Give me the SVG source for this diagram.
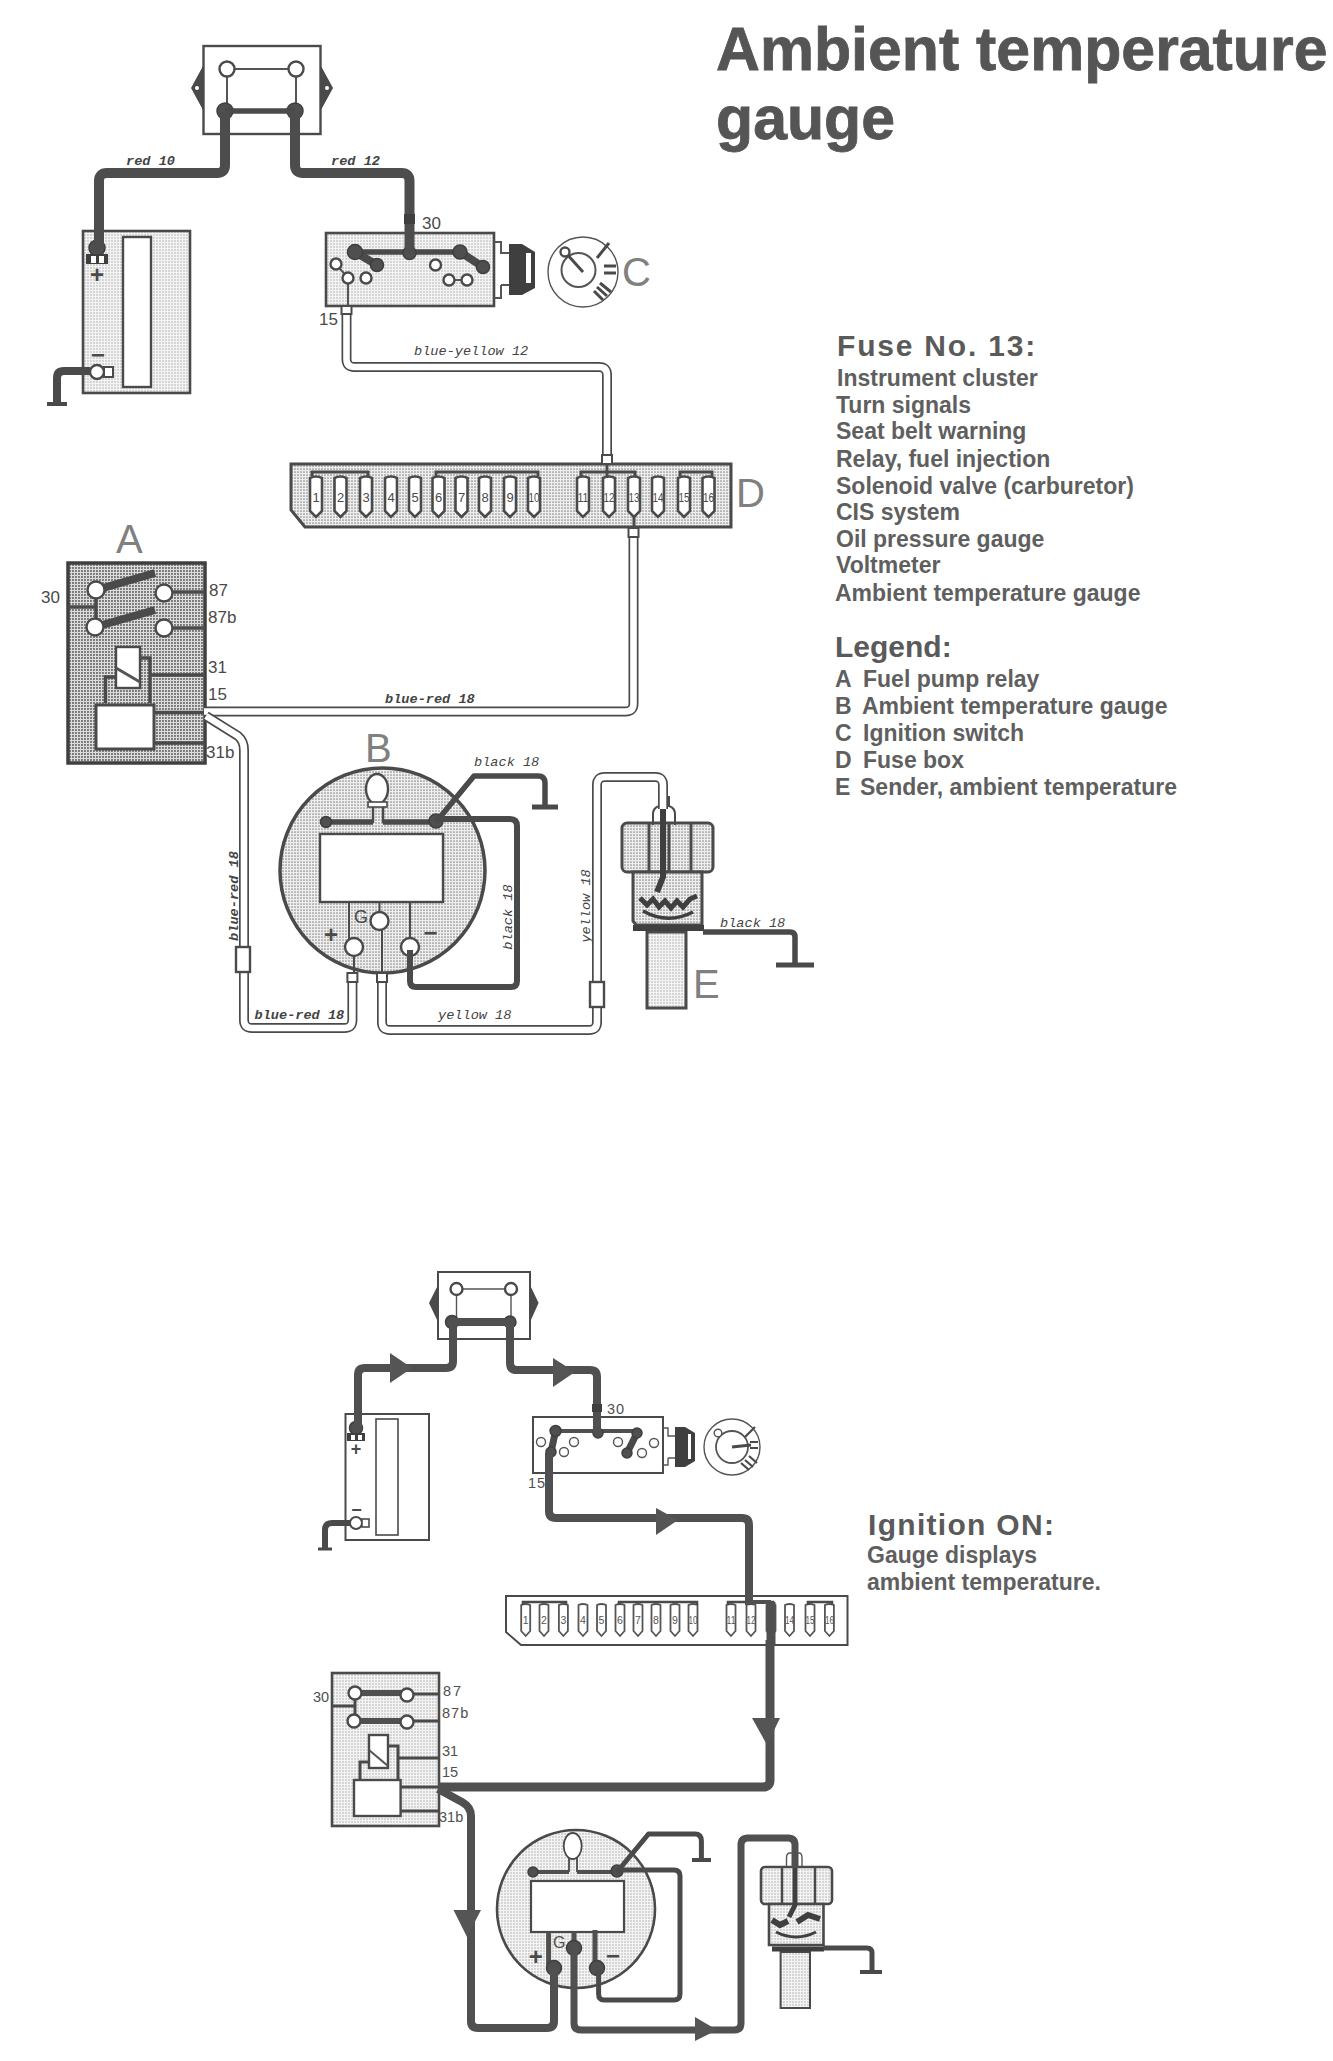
<svg xmlns="http://www.w3.org/2000/svg" xmlns:xlink="http://www.w3.org/1999/xlink" width="1333" height="2061" viewBox="0 0 1333 2061">
<style>
.bg{fill:#fff}
.ln{fill:none;stroke:#4a4a4a;stroke-width:2.4}
.th{fill:none;stroke:#555;stroke-width:1.4}
.light{fill:url(#dotL);stroke:#4a4a4a;stroke-width:2.6}
.mid{fill:url(#dotM);stroke:#4a4a4a;stroke-width:3}
.dark{fill:url(#dotD);stroke:#3f3f3f;stroke-width:3.5}
.wh{fill:#fff;stroke:#4a4a4a;stroke-width:2.4}
.term{fill:#4f4f4f;stroke:#3f3f3f;stroke-width:1.5}
.wire{fill:none;stroke:#4d4d4d;stroke-width:10;stroke-linejoin:round}
.wire2{fill:none;stroke:#505050;stroke-width:8;stroke-linejoin:round}
.w5{fill:none;stroke:#4a4a4a;stroke-width:5.5;stroke-linejoin:round}
.w4{fill:none;stroke:#505050;stroke-width:4;stroke-linejoin:round}
.dO{fill:none;stroke:#4a4a4a;stroke-width:10}
.dI{fill:none;stroke:#fff;stroke-width:6.6}
.arrow{fill:#555}
.lab{font-family:"Liberation Mono",monospace;font-style:italic;font-size:13.6px;fill:#444}
.labb{font-family:"Liberation Mono",monospace;font-style:italic;font-weight:bold;font-size:13.6px;fill:#444}
.pin{font-family:"Liberation Sans",Arial,sans-serif;font-size:17px;fill:#4a4a4a}
.pin2{font-family:"Liberation Sans",Arial,sans-serif;font-size:14.5px;fill:#4f4f4f}
.big{font-family:"Liberation Sans",Arial,sans-serif;font-size:40px;fill:#808080}
.sign{font-family:"Liberation Sans",Arial,sans-serif;font-weight:bold;font-size:24px;fill:#4a4a4a;text-anchor:middle}
.h0{font-family:"Liberation Sans",Arial,sans-serif;font-weight:bold;font-size:60.8px;fill:#555;stroke:#555;stroke-width:0.8}
.h1{font-family:"Liberation Sans",Arial,sans-serif;font-weight:bold;font-size:30px;fill:#5a5a5a}
.t{font-family:"Liberation Sans",Arial,sans-serif;font-weight:bold;font-size:23px;fill:#5f5f5f}
.fn{font-family:"Liberation Sans",Arial,sans-serif;font-size:13px;fill:#4a4a4a;text-anchor:middle}
.fn2{font-family:"Liberation Sans",Arial,sans-serif;font-size:10.5px;fill:#555;text-anchor:middle}
</style>
<defs>
<pattern id="dotL" width="3" height="3" patternUnits="userSpaceOnUse"><rect width="3" height="3" fill="#f4f4f4"/><circle cx="1" cy="1" r="0.7" fill="#a0a0a0"/></pattern>
<pattern id="dotM" width="3" height="3" patternUnits="userSpaceOnUse"><rect width="3" height="3" fill="#eeeeee"/><circle cx="1" cy="1" r="0.85" fill="#8a8a8a"/></pattern>
<pattern id="dotD" width="3" height="3" patternUnits="userSpaceOnUse"><rect width="3" height="3" fill="#dcdcdc"/><circle cx="1" cy="1" r="1.05" fill="#707070"/></pattern>
<path id="fuse" d="M-6,-19 Q0,-22 6,-19 V14 L0,20 L-6,14 Z"/>
<path id="fuse2" d="M-4.5,-15 Q0,-17 4.5,-15 V11 L0,16 L-4.5,11 Z"/>
<path id="wBY" d="M346.5,306 V359 Q346.5,367 354.5,367 H599 Q607,367 607,375 V457"/>
<path id="wBR1" d="M633.5,530 V703.5 Q633.5,711.5 625.5,711.5 H204"/>
<path id="wBR2" d="M206,716 L238,736 Q244,741 244,750 V1020 Q244,1028 252,1028 H344.4 Q352.4,1028 352.4,1020 V975"/>
<path id="wY" d="M382,975 V1022 Q382,1030 390,1030 H589 Q597,1030 597,1022 V785 Q597,777 605,777 H655 Q663,777 663,785 V809"/>
</defs>

<rect class="bg" width="1333" height="2061"/>

<g id="title">
<text class="h0" x="716" y="70">Ambient temperature</text>
<text class="h0" x="716" y="139">gauge</text>
</g>

<g id="fuse-list">
<text class="h1" x="837" y="356" letter-spacing="1.8">Fuse No. 13:</text>
<text class="t" x="837" y="386">Instrument cluster</text>
<text class="t" x="836" y="413">Turn signals</text>
<text class="t" x="836" y="439">Seat belt warning</text>
<text class="t" x="836" y="467">Relay, fuel injection</text>
<text class="t" x="836" y="494">Solenoid valve (carburetor)</text>
<text class="t" x="836" y="520">CIS system</text>
<text class="t" x="836" y="547">Oil pressure gauge</text>
<text class="t" x="836" y="573">Voltmeter</text>
<text class="t" x="835" y="601">Ambient temperature gauge</text>
</g>

<g id="legend">
<text class="h1" x="835" y="657">Legend:</text>
<text class="t" x="835" y="687">A</text><text class="t" x="863" y="687">Fuel pump relay</text>
<text class="t" x="835" y="714">B</text><text class="t" x="862" y="714">Ambient temperature gauge</text>
<text class="t" x="835" y="741">C</text><text class="t" x="863" y="741">Ignition switch</text>
<text class="t" x="835" y="768">D</text><text class="t" x="863" y="768">Fuse box</text>
<text class="t" x="835" y="795">E</text><text class="t" x="860" y="795">Sender, ambient temperature</text>
</g>

<g id="ignition-note">
<text class="h1" x="868" y="1535" letter-spacing="1.3">Ignition ON:</text>
<text class="t" x="867" y="1563">Gauge displays</text>
<text class="t" x="867" y="1590">ambient temperature.</text>
</g>

<!-- upper diagram -->
<g id="connector-block-1">
<path d="M203,66 L191,88 L203,110 Z M321,66 L333,88 L321,110 Z" fill="#4a4a4a"/>
<circle cx="197" cy="88" r="2" fill="#fff"/><circle cx="327" cy="88" r="2" fill="#fff"/>
<rect class="wh" x="203.5" y="46" width="117" height="88"/>
<path class="th" d="M227,69 V111 M296,69 V111 M227,69 H296" style="stroke-width:2"/>
<circle class="wh" cx="227" cy="69" r="7.5"/><circle class="wh" cx="296" cy="69" r="7.5"/>
<circle class="term" cx="225" cy="111" r="8"/><circle class="term" cx="295" cy="111" r="8"/>
<path class="w5" d="M225,111 H295"/>
</g>

<g id="battery-1">
<rect class="light" x="83" y="231" width="107" height="162"/>
<rect class="wh" x="123" y="237" width="28" height="150"/>
<circle class="term" cx="97" cy="248" r="8"/>
<rect x="86" y="254" width="22" height="10" fill="#3f3f3f"/>
<rect x="91" y="256" width="5" height="7" fill="#fff"/><rect x="99" y="256" width="5" height="7" fill="#fff"/>
<text class="sign" x="97" y="283">+</text>
<text class="sign" x="98" y="363">−</text>
<circle cx="97" cy="372" r="7" fill="#fff" stroke="#4a4a4a" stroke-width="2.4"/>
<rect x="104" y="367" width="9" height="10" fill="#fff" stroke="#4a4a4a" stroke-width="2"/>
<path d="M47,404 H67" fill="none" stroke="#4a4a4a" stroke-width="4"/>
<path d="M57,404 V378 Q57,371 64,371 H90" fill="none" stroke="#4a4a4a" stroke-width="8"/>
</g>

<g id="switch-C">
<rect class="light" x="326" y="233" width="168" height="73"/>
<path class="w5" d="M355,252 H460"/>
<path d="M355,252 L377,265 M460,252 L483,267" fill="none" stroke="#4a4a4a" stroke-width="8"/>
<circle class="term" cx="355" cy="252" r="7.5"/><circle class="term" cx="409.5" cy="253" r="6.5"/><circle class="term" cx="460" cy="252" r="7"/><circle class="term" cx="377" cy="265" r="6.5"/><circle class="term" cx="483" cy="267" r="6.5"/>
<path class="th" d="M336,264 L348,278 V306 M449,280 H467" style="stroke-width:2"/>
<circle class="wh" cx="336" cy="264" r="5.5"/><circle class="wh" cx="348" cy="278" r="5.5"/><circle class="wh" cx="366" cy="278" r="5.5"/><circle class="wh" cx="435.5" cy="265" r="5.5"/><circle class="wh" cx="449" cy="280" r="5.5"/><circle class="wh" cx="467" cy="280" r="5.5"/>
<path class="th" d="M494,242 H501 V253 H509 M501,285 V298 H494 M501,285 H509" style="stroke-width:2"/>
<path d="M509,244 H522 L535,252 V288 L522,295 H509 Z" fill="#3f3f3f"/>
<rect x="526" y="253" width="5" height="30" fill="#fff"/>
<circle class="th" cx="583" cy="272" r="35"/>
<circle class="th" cx="578.5" cy="270" r="17" style="stroke-width:2"/>
<path d="M565,252 L583,272" stroke="#4a4a4a" stroke-width="3" fill="none"/>
<circle class="wh" cx="565" cy="252" r="4.5"/>
<path d="M597,258 L609,243 M604,266 H616 M604,273 H616 M597,287 L607,296 M600,283 L611,292 M594,291 L603,300" stroke="#4a4a4a" stroke-width="3" fill="none"/>
<text class="big" x="622" y="286">C</text>
<text class="pin" x="422" y="229">30</text>
<text class="pin" x="319" y="325">15</text>
</g>

<g id="fusebox-D">
<path class="mid" d="M291,464 H731 V527 H305 L291,510 Z"/>
<g fill="#fff" stroke="#4a4a4a" stroke-width="2.6">
<use xlink:href="#fuse" x="316" y="497"/><use xlink:href="#fuse" x="340.5" y="497"/><use xlink:href="#fuse" x="366" y="497"/><use xlink:href="#fuse" x="391" y="497"/><use xlink:href="#fuse" x="415" y="497"/><use xlink:href="#fuse" x="438.5" y="497"/><use xlink:href="#fuse" x="461.5" y="497"/><use xlink:href="#fuse" x="485" y="497"/><use xlink:href="#fuse" x="510" y="497"/><use xlink:href="#fuse" x="534" y="497"/><use xlink:href="#fuse" x="583" y="497"/><use xlink:href="#fuse" x="609" y="497"/><use xlink:href="#fuse" x="634" y="497"/><use xlink:href="#fuse" x="658" y="497"/><use xlink:href="#fuse" x="684" y="497"/><use xlink:href="#fuse" x="708.5" y="497"/>
</g>
<path class="ln" d="M312,476 V472 H368 V476 M436,476 V472 H538 V476 M581,476 V472 H635 V476 M680,476 V472 H712 V476" style="stroke-width:3"/>
<text class="fn" x="316" y="502">1</text><text class="fn" x="340.5" y="502">2</text><text class="fn" x="366" y="502">3</text><text class="fn" x="391" y="502">4</text><text class="fn" x="415" y="502">5</text><text class="fn" x="438.5" y="502">6</text><text class="fn" x="461.5" y="502">7</text><text class="fn" x="485" y="502">8</text><text class="fn" x="510" y="502">9</text><text class="fn" x="534" y="502" textLength="11" lengthAdjust="spacingAndGlyphs">10</text><text class="fn" x="583" y="502" textLength="11" lengthAdjust="spacingAndGlyphs">11</text><text class="fn" x="609" y="502" textLength="11" lengthAdjust="spacingAndGlyphs">12</text><text class="fn" x="634" y="502" textLength="11" lengthAdjust="spacingAndGlyphs">13</text><text class="fn" x="658" y="502" textLength="11" lengthAdjust="spacingAndGlyphs">14</text><text class="fn" x="684" y="502" textLength="11" lengthAdjust="spacingAndGlyphs">15</text><text class="fn" x="708.5" y="502" textLength="11" lengthAdjust="spacingAndGlyphs">16</text>
<text class="big" x="736" y="507">D</text>
</g>

<g id="relay-A">
<rect class="dark" x="68" y="563" width="137" height="200"/>
<path class="w5" d="M96,590 L155,573 M95,627 L155,610" style="stroke-width:8"/>
<path class="ln" d="M68,607 H96 M96,590 V627 M164,592 H205 M164,628 H205" style="stroke-width:3.4"/>
<circle class="wh" cx="96" cy="590" r="8.5"/><circle class="wh" cx="164" cy="593" r="8.5"/><circle class="wh" cx="95" cy="627" r="8.5"/><circle class="wh" cx="164" cy="628" r="8.5"/>
<path class="ln" d="M140,658 H150 V703 M116.5,677 H105.5 V703 M150,675 H205 M154,712.5 H205 M154,743 H205" style="stroke-width:3.4"/>
<rect class="wh" x="116" y="647" width="24" height="41"/>
<path class="th" d="M116,668 L140,682" style="stroke-width:3"/>
<rect class="wh" x="96" y="705" width="58" height="44" style="stroke-width:3"/>
<text class="big" x="116" y="553">A</text>
<text class="pin" x="41" y="603">30</text>
<text class="pin" x="209" y="596">87</text>
<text class="pin" x="208" y="623">87b</text>
<text class="pin" x="208" y="673">31</text>
<text class="pin" x="208" y="700">15</text>
<text class="pin" x="206" y="758">31b</text>
</g>

<g id="gauge-B">
<circle class="mid" cx="382.5" cy="870.5" r="102.5" style="stroke-width:3.5"/>
<path class="ln" d="M373,805 V823 M383,805 V823"/>
<path class="w5" d="M326,822 H373 M383,822 H436"/>
<circle class="term" cx="326" cy="822" r="5.5"/><circle class="term" cx="436" cy="821" r="7"/>
<ellipse class="wh" cx="377" cy="789" rx="11" ry="15"/>
<rect x="368" y="802" width="19" height="5" fill="#fff" stroke="#4a4a4a" stroke-width="1.6"/>
<rect class="wh" x="320" y="834" width="123" height="68"/>
<path class="ln" d="M349,902 V940 M410,902 V940 M379.5,902 V912" style="stroke-width:2"/>
<path class="ln" d="M354,955 V973 M382,930 V973" style="stroke-width:2"/>
<circle class="wh" cx="354" cy="947" r="9"/><circle class="wh" cx="379.5" cy="921" r="9"/><circle class="wh" cx="410" cy="947" r="9"/>
<text class="pin" x="354" y="923" style="font-size:18px">G</text>
<text class="sign" x="331" y="943">+</text>
<text class="sign" x="430.5" y="941">−</text>
<path d="M532,807 H558" stroke="#4a4a4a" stroke-width="5" fill="none"/>
<text class="big" x="365" y="762">B</text>
</g>

<g id="sender-E">
<rect class="light" x="647" y="932" width="39" height="76" style="stroke-width:3"/>
<rect class="mid" x="622" y="823" width="91" height="49" rx="5"/>
<path class="ln" d="M649,823 V872 M669,823 V872 M691,823 V872" style="stroke-width:3"/>
<path class="mid" d="M633,872 H702 V925 H636 L633,921 Z"/>
<path d="M663,808 V877 L657,892" fill="none" stroke="#3f3f3f" stroke-width="6"/>
<path d="M640,898 L647,905 L653,899 L659,907 L665,901 L671,908 L677,901 L683,907 L690,899 L697,896" fill="none" stroke="#3f3f3f" stroke-width="5"/>
<path d="M643,911 Q668,925 693,912" fill="none" stroke="#3f3f3f" stroke-width="3.5"/>
<path d="M633,928 H704" stroke="#3f3f3f" stroke-width="6" fill="none"/>
<path d="M653,825 V814 Q653,808 659,806 V796 M675,825 V814 Q675,808 669,806 V796" fill="none" stroke="#4a4a4a" stroke-width="2"/>
<path d="M776,965 H814" stroke="#4a4a4a" stroke-width="5" fill="none"/>
<text class="big" x="693" y="998">E</text>
</g>

<g id="connectors-upper">
<path class="wire" d="M225,111 V165 Q225,173 217,173 H107 Q99,173 99,181 V250"/>
<path class="wire" d="M295,111 V165 Q295,173 303,173 H401.5 Q409.5,173 409.5,181 V253"/>
<rect x="404" y="214" width="11" height="10" fill="#3f3f3f"/>
<use xlink:href="#wBY" class="dO"/><use xlink:href="#wBY" class="dI"/>
<rect x="341.5" y="306" width="10" height="8" fill="#fff" stroke="#4a4a4a" stroke-width="2"/>
<rect x="602" y="455" width="10" height="9" fill="#fff" stroke="#4a4a4a" stroke-width="2"/>
<path class="ln" d="M607,464 V478 M634,516 V530" style="stroke-width:3"/>
<use xlink:href="#wBR1" class="dO"/><use xlink:href="#wBR1" class="dI"/>
<rect x="628.5" y="528" width="10" height="9" fill="#fff" stroke="#4a4a4a" stroke-width="2"/>
<use xlink:href="#wBR2" class="dO"/><use xlink:href="#wBR2" class="dI"/>
<rect x="236" y="947" width="14" height="25" fill="#fff" stroke="#4a4a4a" stroke-width="2.4"/>
<rect x="347.4" y="973" width="10" height="9" fill="#fff" stroke="#4a4a4a" stroke-width="2"/>
<use xlink:href="#wY" class="dO"/><use xlink:href="#wY" class="dI"/>
<rect x="377" y="973" width="10" height="9" fill="#fff" stroke="#4a4a4a" stroke-width="2"/>
<rect x="590" y="982" width="14" height="25" fill="#fff" stroke="#4a4a4a" stroke-width="2.4"/>
<path class="w5" d="M436,822 L474,776 H538 Q545,776 545,783 V807"/>
<path class="w5" d="M436,819 H510 Q517,819 517,826 V981 Q517,987 511,987 H416 Q410,987 410,981 V950" style="stroke-width:6"/>
<path class="w5" d="M703,932 H790 Q795,932 795,937 V965"/>
<text class="labb" x="126" y="165">red 10</text>
<text class="labb" x="331" y="165">red 12</text>
<text class="lab" x="414" y="355">blue-yellow 12</text>
<text class="labb" x="385" y="703">blue-red 18</text>
<text class="labb" x="254.5" y="1019">blue-red 18</text>
<text class="labb" x="238" y="896" text-anchor="middle" transform="rotate(-90 238 896)">blue-red 18</text>
<text class="lab" x="474" y="766">black 18</text>
<text class="lab" x="720" y="927">black 18</text>
<text class="lab" x="512" y="917" text-anchor="middle" transform="rotate(-90 512 917)">black 18</text>
<text class="lab" x="438" y="1019">yellow 18</text>
<text class="lab" x="590" y="906" text-anchor="middle" transform="rotate(-90 590 906)">yellow 18</text>
</g>

<!-- lower diagram -->
<g id="connector-block-2">
<path d="M438,1285 L429,1303 L438,1322 Z M530,1285 L538.6,1303 L530,1322 Z" fill="#4a4a4a"/>
<rect class="wh" x="438" y="1272" width="92" height="67" style="stroke-width:2"/>
<path class="th" d="M456.5,1289 V1322 M511,1289 V1322 M456.5,1289 H511"/>
<circle class="wh" cx="456.5" cy="1289" r="6"/><circle class="wh" cx="511" cy="1289" r="6"/>
<circle class="term" cx="452" cy="1322" r="6.5"/><circle class="term" cx="510" cy="1322" r="6"/>
<path class="wire2" d="M452,1322 H510"/>
</g>

<g id="battery-2">
<rect class="wh" x="345.5" y="1414" width="83.5" height="126" style="stroke-width:2"/>
<rect class="wh" x="376" y="1419" width="22" height="116" style="stroke-width:1.6"/>
<circle class="term" cx="356" cy="1428" r="6.5"/>
<rect x="347" y="1433" width="18" height="8" fill="#3f3f3f"/>
<rect x="351" y="1435" width="4" height="5" fill="#fff"/><rect x="358" y="1435" width="4" height="5" fill="#fff"/>
<text class="sign" x="356" y="1455" style="font-size:18px">+</text>
<text class="sign" x="356.6" y="1516" style="font-size:18px">−</text>
<circle cx="356" cy="1523" r="6" fill="#fff" stroke="#4a4a4a" stroke-width="2"/>
<rect x="362" y="1519" width="7" height="8" fill="#fff" stroke="#4a4a4a" stroke-width="1.6"/>
<path d="M318,1549 H332" fill="none" stroke="#4a4a4a" stroke-width="3"/>
<path d="M325,1549 V1530 Q325,1523 332,1523 H350" fill="none" stroke="#4a4a4a" stroke-width="6"/>
</g>

<g id="switch-2">
<rect class="wh" x="533" y="1417" width="130" height="56" style="stroke-width:2"/>
<path class="w4" d="M555.6,1431 H637"/>
<path d="M555.6,1431 L551,1452 M637,1433 L627,1453" fill="none" stroke="#4a4a4a" stroke-width="7"/>
<circle class="term" cx="555.6" cy="1431" r="5.5"/><circle class="term" cx="598" cy="1433" r="5"/><circle class="term" cx="637" cy="1433" r="5"/><circle class="term" cx="551" cy="1452" r="5"/><circle class="term" cx="627" cy="1453" r="5"/>
<circle class="th" style="fill:#fff" cx="541" cy="1442" r="4.5"/><circle class="th" style="fill:#fff" cx="574" cy="1442" r="4.5"/><circle class="th" style="fill:#fff" cx="564" cy="1452" r="4.5"/><circle class="th" style="fill:#fff" cx="618" cy="1442" r="4.5"/><circle class="th" style="fill:#fff" cx="654" cy="1443" r="4.5"/><circle class="th" style="fill:#fff" cx="642" cy="1453" r="4.5"/>
<path class="th" d="M663,1428 H668 V1436 H675 M668,1458 V1465 H663 M668,1458 H675"/>
<path d="M675,1427 H685 L695,1433 V1461 L685,1467 H675 Z" fill="#3f3f3f"/>
<rect x="688" y="1434" width="3" height="25" fill="#fff"/>
<circle class="th" cx="732" cy="1447" r="28"/>
<circle class="th" cx="732" cy="1447" r="16" style="stroke-width:1.8"/>
<path d="M732,1447 L751,1445" stroke="#4a4a4a" stroke-width="3" fill="none"/>
<circle class="th" style="fill:#fff" cx="718" cy="1433" r="3.8"/>
<path d="M745,1437 L755,1427 M750,1442 H758 M750,1448 H758 M745,1460 L753,1467 M741,1463 L749,1470 M749,1456 L757,1463" stroke="#4a4a4a" stroke-width="2.2" fill="none"/>
<text class="pin2" x="607" y="1414" letter-spacing="1">30</text>
<text class="pin2" x="528" y="1488" letter-spacing="1">15</text>
</g>

<g id="fusebox-2">
<path class="wh" d="M506,1596 H847.5 V1645 H521 L506,1632 Z" style="stroke-width:2"/>
<g fill="#fff" stroke="#555" stroke-width="1.8">
<use xlink:href="#fuse2" x="525.7" y="1620"/><use xlink:href="#fuse2" x="544" y="1620"/><use xlink:href="#fuse2" x="563.4" y="1620"/><use xlink:href="#fuse2" x="583" y="1620"/><use xlink:href="#fuse2" x="601.5" y="1620"/><use xlink:href="#fuse2" x="620" y="1620"/><use xlink:href="#fuse2" x="638" y="1620"/><use xlink:href="#fuse2" x="656" y="1620"/><use xlink:href="#fuse2" x="675" y="1620"/><use xlink:href="#fuse2" x="693" y="1620"/><use xlink:href="#fuse2" x="731" y="1620"/><use xlink:href="#fuse2" x="751" y="1620"/><use xlink:href="#fuse2" x="771" y="1620"/><use xlink:href="#fuse2" x="789.5" y="1620"/><use xlink:href="#fuse2" x="810" y="1620"/><use xlink:href="#fuse2" x="829.4" y="1620"/>
</g>
<path class="ln" d="M523,1605 V1602 H566 V1605 M619,1605 V1602 H697 V1605 M728,1605 V1602 H773 V1605 M808,1605 V1602 H832 V1605" style="stroke-width:2.6"/>
<text class="fn2" x="525.7" y="1624">1</text><text class="fn2" x="544" y="1624">2</text><text class="fn2" x="563.4" y="1624">3</text><text class="fn2" x="583" y="1624">4</text><text class="fn2" x="601.5" y="1624">5</text><text class="fn2" x="620" y="1624">6</text><text class="fn2" x="638" y="1624">7</text><text class="fn2" x="656" y="1624">8</text><text class="fn2" x="675" y="1624">9</text><text class="fn2" x="693" y="1624" textLength="9" lengthAdjust="spacingAndGlyphs">10</text><text class="fn2" x="731" y="1624" textLength="9" lengthAdjust="spacingAndGlyphs">11</text><text class="fn2" x="751" y="1624" textLength="9" lengthAdjust="spacingAndGlyphs">12</text><text class="fn2" x="771" y="1624" textLength="9" lengthAdjust="spacingAndGlyphs">13</text><text class="fn2" x="789.5" y="1624" textLength="9" lengthAdjust="spacingAndGlyphs">14</text><text class="fn2" x="810" y="1624" textLength="9" lengthAdjust="spacingAndGlyphs">15</text><text class="fn2" x="829.4" y="1624" textLength="9" lengthAdjust="spacingAndGlyphs">16</text>
</g>

<g id="relay-2">
<rect class="light" x="332" y="1673" width="107" height="153"/>
<path class="w4" d="M355,1693 H407 M354,1721 H407" style="stroke-width:6"/>
<path class="ln" d="M332,1706 H355 M355,1693 V1721 M407,1694 H439 M407,1721 H439" style="stroke-width:3"/>
<circle class="wh" cx="355" cy="1693" r="6.5"/><circle class="wh" cx="407" cy="1695" r="6.5"/><circle class="wh" cx="354" cy="1721" r="6.5"/><circle class="wh" cx="407" cy="1722" r="6.5"/>
<path class="ln" d="M388,1746 H398 V1780 M369,1762 H360 V1780 M398,1758 H439 M400.6,1787 H439 M400.6,1811 H439" style="stroke-width:3"/>
<rect class="wh" x="369" y="1735" width="19" height="33"/>
<path class="th" d="M369,1750 L388,1766" style="stroke-width:2"/>
<rect class="wh" x="354" y="1780" width="46.6" height="36"/>
<text class="pin2" x="313" y="1702">30</text>
<text class="pin2" x="443" y="1696" letter-spacing="2">87</text>
<text class="pin2" x="442" y="1718" letter-spacing="1">87b</text>
<text class="pin2" x="442" y="1756">31</text>
<text class="pin2" x="442" y="1777">15</text>
<text class="pin2" x="439" y="1822">31b</text>
</g>

<g id="gauge-2">
<circle class="light" cx="576" cy="1909" r="79"/>
<path class="ln" d="M569,1858 V1872 M577,1858 V1872" style="stroke-width:1.8"/>
<path class="w4" d="M533,1872 H569 M577,1872 H617"/>
<circle class="term" cx="533" cy="1872" r="5"/><circle class="term" cx="617" cy="1871" r="6"/>
<ellipse class="wh" cx="572.7" cy="1846" rx="9" ry="13" style="stroke-width:1.8"/>
<rect class="wh" x="531" y="1881" width="93" height="51" style="stroke-width:2.2"/>
<path class="w4" d="M548.6,1932 V1965 M574,1932 V1948 M595,1930 V1965" style="stroke-width:5"/>
<circle class="term" cx="574" cy="1948" r="7.5"/><circle class="term" cx="554" cy="1968" r="7.5"/><circle class="term" cx="597" cy="1968" r="7.5"/>
<text class="pin2" x="553" y="1948" style="font-size:16px">G</text>
<text class="sign" x="535.7" y="1965">+</text>
<text class="sign" x="613" y="1964">−</text>
<path d="M692,1860 H711" stroke="#4a4a4a" stroke-width="4" fill="none"/>
</g>

<g id="sender-2">
<rect class="light" x="780.6" y="1952" width="29.4" height="56" style="stroke-width:2"/>
<rect class="light" x="761" y="1867" width="71" height="37" rx="4"/>
<path class="ln" d="M782,1867 V1904 M815,1867 V1904" style="stroke-width:2.4"/>
<path class="light" d="M769,1904 H823.5 V1945 H769 Z"/>
<path d="M795,1868 V1905 L789,1917" fill="none" stroke="#3f3f3f" stroke-width="5"/>
<path d="M772,1920 L780,1925 L788,1921 M797,1922 L808,1915 L820,1919" fill="none" stroke="#3f3f3f" stroke-width="6"/>
<path d="M776,1932 Q796,1942 816,1932" fill="none" stroke="#3f3f3f" stroke-width="3"/>
<path d="M772,1949 H824" stroke="#3f3f3f" stroke-width="5" fill="none"/>
<path class="th" d="M786.5,1866 V1858 Q786.5,1853 790,1853 H799 Q802,1853 802,1858 V1866"/>
<path d="M860,1972 H882" stroke="#4a4a4a" stroke-width="4" fill="none"/>
</g>

<g id="connectors-lower">
<path class="wire2" d="M453,1322 V1361 Q453,1368 446,1368 H365 Q358,1368 358,1375 V1430"/>
<path class="wire2" d="M510,1322 V1363 Q510,1370 517,1370 H590 Q597,1370 597,1377 V1433"/>
<rect x="592" y="1404" width="10" height="8" fill="#3f3f3f"/>
<path class="wire2" d="M549,1453 V1511 Q549,1518 556,1518 H742 Q749,1518 749,1525 V1605"/>
<path class="w4" d="M749,1602 H771"/>
<path class="wire2" d="M771,1602 V1645 M770,1640 V1780 Q770,1787 763,1787 H438" style="stroke-width:9"/>
<path class="wire2" d="M438,1789 L462,1802 Q471,1807 471,1816 V2021 Q471,2028 478,2028 H547 Q554,2028 554,2021 V1968"/>
<path class="wire2" d="M574,1948 V2023 Q574,2030 581,2030 H734 Q741,2030 741,2023 V1845 Q741,1838 748,1838 H788 Q795,1838 795,1845 V1868" style="stroke-width:7"/>
<path class="w5" d="M617,1872 L648.5,1834 H695 Q701.4,1834 701.4,1841 V1860" style="stroke-width:5"/>
<path class="w5" d="M617,1870 H674 Q680,1870 680,1876 V1994 Q680,2000 674,2000 H604 Q598.6,2000 598.6,1994 V1970" style="stroke-width:5"/>
<path class="w5" d="M823.5,1948 H867 Q872,1948 872,1953 V1972" style="stroke-width:5"/>
<path class="arrow" d="M390,1353 V1383 L412,1368 Z"/>
<path class="arrow" d="M553,1358 V1387 L575,1372 Z"/>
<path class="arrow" d="M656,1508 V1535 L678,1520 Z"/>
<path class="arrow" d="M752,1718 H780 L767,1745 Z"/>
<path class="arrow" d="M453.5,1910 H481 L467,1937 Z"/>
<path class="arrow" d="M695,2017 V2041 L717,2030 Z"/>
</g>
</svg>
